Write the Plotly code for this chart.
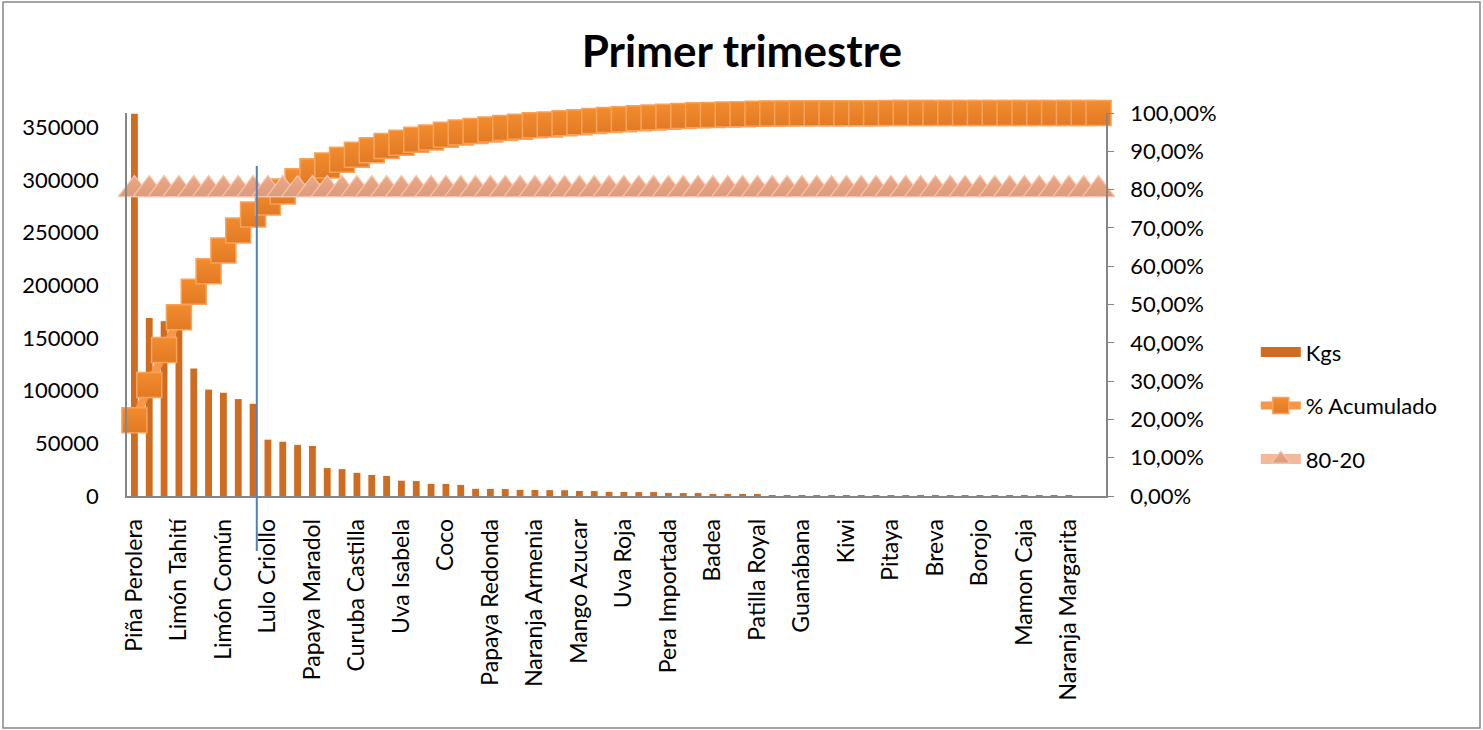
import plotly.graph_objects as go

# ---------------- data ----------------
tick_labels = ["Piña Perolera", "Limón Tahití", "Limón Común", "Lulo Criollo",
               "Papaya Maradol", "Curuba Castilla", "Uva Isabela", "Coco",
               "Papaya Redonda", "Naranja Armenia", "Mango Azucar", "Uva Roja",
               "Pera Importada", "Badea", "Patilla Royal", "Guanábana", "Kiwi",
               "Pitaya", "Breva", "Borojo", "Mamon Caja", "Naranja Margarita"]

kgs = [363000, 169000, 166000, 158000, 121000, 101000, 98000, 92000, 87500, 53500,
       51500, 48500, 47500, 26500, 25500, 22000, 20000, 19000, 14500, 14200,
       11500, 11400, 10500, 6800, 6700, 6600, 5800, 5700, 5600, 5500,
       4800, 4700, 3900, 3800, 3700, 3700, 2900, 2800, 2800, 1900,
       1800, 1800, 1000, 900, 800, 45, 42, 40, 38, 35,
       32, 30, 28, 25, 22, 20, 18, 16, 14, 12,
       10, 8, 6, 5, 3, 2]

acumulado = [0.198, 0.290, 0.381, 0.467, 0.533, 0.587, 0.641, 0.693, 0.735, 0.766,
             0.795, 0.822, 0.848, 0.863, 0.878, 0.891, 0.903, 0.914, 0.922, 0.930,
             0.936, 0.943, 0.949, 0.953, 0.957, 0.961, 0.964, 0.968, 0.970, 0.973,
             0.976, 0.979, 0.982, 0.984, 0.986, 0.988, 0.990, 0.992, 0.994, 0.995,
             0.996, 0.997, 0.998, 0.9985, 0.999, 0.9992, 0.9993, 0.9994, 0.9995, 0.9996,
             0.9996, 0.9997, 0.9997, 0.9998, 0.9998, 0.9998, 0.9999, 0.9999, 0.9999, 0.9999,
             0.9999, 1.0, 1.0, 1.0, 1.0, 1.0]

regla_80_20 = [0.80, 0.80, 0.80, 0.80, 0.80, 0.80, 0.80, 0.80, 0.80, 0.80,
               0.80, 0.80, 0.80, 0.80, 0.80, 0.80, 0.80, 0.80, 0.80, 0.80,
               0.80, 0.80, 0.80, 0.80, 0.80, 0.80, 0.80, 0.80, 0.80, 0.80,
               0.80, 0.80, 0.80, 0.80, 0.80, 0.80, 0.80, 0.80, 0.80, 0.80,
               0.80, 0.80, 0.80, 0.80, 0.80, 0.80, 0.80, 0.80, 0.80, 0.80,
               0.80, 0.80, 0.80, 0.80, 0.80, 0.80, 0.80, 0.80, 0.80, 0.80,
               0.80, 0.80, 0.80, 0.80, 0.80, 0.80]

x_pos = list(range(len(kgs)))
tick_pos = x_pos[::3]

FONT = "Lato, 'Open Sans', sans-serif"
BAR_COLOR = "#CF6C20"

fig = go.Figure()

fig.add_trace(go.Bar(
    x=x_pos, y=kgs, name="Kgs", width=0.46,
    marker=dict(color=BAR_COLOR, line=dict(width=0)),
    showlegend=False,
))

# legend proxy for the bars (wide rectangle swatch like the original)
fig.add_trace(go.Scatter(
    x=[None], y=[None], name="Kgs", mode="lines",
    line=dict(color=BAR_COLOR, width=17),
    legendgroup="a",
))

fig.add_trace(go.Scatter(
    x=x_pos, y=acumulado, name="% Acumulado", yaxis="y2", mode="lines+markers",
    line=dict(color="#F79646", width=8),
    marker=dict(symbol="square", size=25, color="#F38B2E",
                line=dict(color="#F9A35A", width=1.5),
                gradient=dict(type="vertical", color="#E17A24")),
    cliponaxis=False,
    legendgroup="b",
))

fig.add_trace(go.Scatter(
    x=x_pos, y=regla_80_20, name="80-20", yaxis="y2", mode="lines+markers",
    line=dict(color="#F4B99C", width=10),
    marker=dict(symbol="triangle-up", size=28, color="#EDA886",
                line=dict(color="#F8C4A8", width=1.2),
                gradient=dict(type="vertical", color="#DB9B7D")),
    cliponaxis=False,
    legendgroup="c",
))

fig.update_layout(
    width=1483, height=730, autosize=False,
    margin=dict(l=127, r=377, t=113, b=234),
    paper_bgcolor="white", plot_bgcolor="white",
    separators=",.",
    font=dict(family=FONT, size=22, color="#000000"),
    title=dict(text="<b>Primer trimestre</b>", font=dict(family=FONT, size=44, color="#000000"),
               x=0.628, xref="paper", xanchor="center", y=1 - 52 / 730, yref="container",
               yanchor="middle"),
    bargap=0.5,
    showlegend=True,
    legend=dict(x=1.153, xanchor="left", y=0.236, yanchor="middle",
                traceorder="grouped", tracegroupgap=22,
                font=dict(family=FONT, size=22, color="#000000"),
                bgcolor="rgba(0,0,0,0)", itemwidth=40),
    xaxis=dict(range=[-0.5, len(kgs) - 0.5], tickmode="array", tickvals=tick_pos,
               ticktext=tick_labels, tickangle=-90, showgrid=False, zeroline=False,
               showline=True, linecolor="#868686", linewidth=1.5, ticks="",
               ticklabelstandoff=12, tickfont=dict(family=FONT, size=23)),
    yaxis=dict(range=[0, 363600], dtick=50000, tickformat="d", showgrid=False,
               zeroline=False, showline=True, linecolor="#868686", linewidth=1.5,
               ticks="", ticklabelstandoff=22, tickfont=dict(family=FONT, size=22)),
    yaxis2=dict(range=[0, 1], dtick=0.1, tickformat=".2%", overlaying="y", side="right",
                showgrid=False, zeroline=False, showline=True, linecolor="#868686",
                linewidth=1.5, ticks="outside", ticklen=6, tickcolor="#868686",
                ticklabelstandoff=12, tickfont=dict(family=FONT, size=22)),
    shapes=[
        dict(type="rect", xref="paper", yref="paper",
             x0=(3 - 127) / 979, x1=(1480 - 127) / 979,
             y0=(496 - 728) / 383, y1=(496 - 2) / 383,
             line=dict(color="#868686", width=1.5), fillcolor="rgba(0,0,0,0)", layer="below"),
        dict(type="line", xref="x", yref="paper", x0=8.25, x1=8.25,
             y0=(496 - 551) / 383, y1=(496 - 166) / 383,
             line=dict(color="#4F81BD", width=2)),
    ],
)

fig.write_html("out.html")
